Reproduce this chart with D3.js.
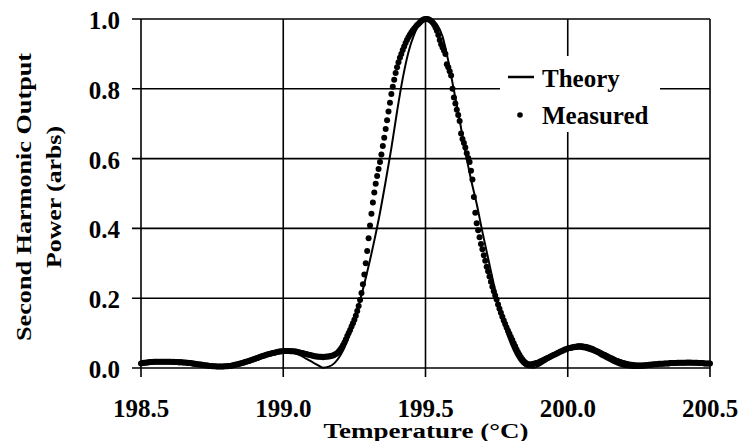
<!DOCTYPE html>
<html>
<head>
<meta charset="utf-8">
<script src="https://cdnjs.cloudflare.com/ajax/libs/d3/7.8.5/d3.min.js"></script>
<style>
	body { margin: 0; background: #fff; }
	text { font-family: 'Liberation Serif', 'Times New Roman', serif; font-weight: bold; fill: #000; }
</style>
</head>
<body>
<svg id="sh-chart" width="743" height="441"></svg>
<script>
var xTicks = [198.5, 199.0, 199.5, 200.0, 200.5];
var yTicks = [0, 0.2, 0.4, 0.6, 0.8, 1.0];
var legendNames = ['Theory', 'Measured'];

// theory curve, one value every 0.02 C from 198.5
var theoryStart = 198.5,
    theoryStep = 0.02;
var theory = [
	0.012,0.014,0.015,0.016,0.016,0.016,0.015,0.013,0.011,0.008,
	0.006,0.004,0.002,0.001,0.000,0.001,0.004,0.008,0.013,0.019,
	0.026,0.032,0.038,0.042,0.046,0.048,0.047,0.043,0.036,0.027,
	0.018,0.009,0.001,0.004,0.014,0.035,0.068,0.112,0.165,0.225,
	0.292,0.365,0.445,0.535,0.630,0.735,0.830,0.905,0.955,0.988,
	1.000,0.997,0.985,0.950,0.880,0.795,0.710,0.620,0.540,0.470,
	0.390,0.315,0.240,0.170,0.115,0.070,0.035,0.012,0.002,0.001,
	0.007,0.017,0.028,0.038,0.046,0.051,0.054,0.055,0.053,0.048,
	0.041,0.032,0.023,0.015,0.008,0.003,0.001,0.000,0.001,0.003,
	0.006,0.009,0.012,0.014,0.015,0.016,0.016,0.015,0.014,0.013,
	0.012
];

// measured points, one every 0.005 C from 198.5
var measuredStart = 198.5,
    measuredStep = 0.005;
var measured = [
	0.013,0.014,0.015,0.015,0.016,0.016,0.017,0.017,0.017,0.018,
	0.018,0.018,0.018,0.018,0.018,0.018,0.018,0.018,0.018,0.018,
	0.018,0.018,0.017,0.018,0.017,0.017,0.017,0.016,0.017,0.016,
	0.016,0.016,0.015,0.015,0.014,0.014,0.013,0.013,0.012,0.011,
	0.011,0.010,0.010,0.009,0.008,0.008,0.007,0.007,0.006,0.006,
	0.005,0.005,0.005,0.004,0.004,0.004,0.004,0.004,0.004,0.005,
	0.005,0.005,0.006,0.006,0.007,0.008,0.009,0.010,0.011,0.012,
	0.013,0.014,0.015,0.017,0.018,0.019,0.020,0.022,0.023,0.025,
	0.026,0.028,0.029,0.031,0.032,0.034,0.035,0.036,0.038,0.039,
	0.040,0.041,0.042,0.043,0.044,0.045,0.046,0.047,0.047,0.048,
	0.048,0.049,0.049,0.049,0.049,0.048,0.048,0.048,0.047,0.047,
	0.046,0.045,0.044,0.043,0.042,0.041,0.040,0.039,0.038,0.037,
	0.036,0.035,0.034,0.033,0.033,0.032,0.032,0.032,0.031,0.032,
	0.032,0.033,0.033,0.034,0.035,0.036,0.038,0.040,0.043,0.047,
	0.052,0.058,0.065,0.073,0.082,0.092,0.100,0.109,0.119,0.128,
	0.138,0.150,0.163,0.178,0.195,0.215,0.240,0.268,0.300,0.335,
	0.372,0.408,0.442,0.474,0.503,0.528,0.550,0.570,0.590,0.612,
	0.636,0.660,0.685,0.710,0.735,0.760,0.785,0.806,0.826,0.845,
	0.862,0.876,0.889,0.900,0.911,0.921,0.931,0.940,0.948,0.955,
	0.961,0.967,0.972,0.977,0.982,0.986,0.990,0.994,0.997,0.999,
	1.000,1.000,0.999,0.997,0.994,0.990,0.984,0.976,0.966,0.954,
	0.940,0.928,0.918,0.910,0.900,0.870,0.862,0.850,0.838,0.800,
	0.775,0.758,0.740,0.725,0.708,0.672,0.656,0.645,0.632,0.615,
	0.602,0.590,0.565,0.540,0.490,0.445,0.415,0.395,0.375,0.355,
	0.340,0.323,0.307,0.290,0.277,0.262,0.247,0.233,0.220,0.208,
	0.196,0.182,0.170,0.158,0.147,0.136,0.126,0.116,0.107,0.098,
	0.089,0.080,0.071,0.062,0.053,0.045,0.038,0.031,0.025,0.020,
	0.016,0.013,0.011,0.010,0.010,0.011,0.012,0.013,0.014,0.015,
	0.017,0.019,0.021,0.023,0.025,0.027,0.029,0.031,0.033,0.035,
	0.037,0.039,0.041,0.043,0.045,0.047,0.049,0.051,0.053,0.054,
	0.056,0.057,0.058,0.059,0.060,0.061,0.061,0.062,0.062,0.062,
	0.062,0.061,0.061,0.060,0.059,0.058,0.056,0.055,0.053,0.051,
	0.049,0.047,0.045,0.043,0.041,0.039,0.037,0.035,0.033,0.031,
	0.029,0.027,0.025,0.023,0.021,0.020,0.018,0.017,0.015,0.014,
	0.013,0.012,0.011,0.010,0.009,0.009,0.008,0.008,0.007,0.007,
	0.007,0.007,0.007,0.007,0.008,0.008,0.008,0.009,0.009,0.010,
	0.010,0.011,0.011,0.011,0.012,0.012,0.012,0.012,0.013,0.013,
	0.013,0.013,0.014,0.014,0.014,0.014,0.014,0.015,0.015,0.015,
	0.015,0.015,0.015,0.015,0.016,0.015,0.016,0.015,0.015,0.015,
	0.015,0.015,0.014,0.014,0.014,0.014,0.013,0.013,0.013,0.013,
	0.013
];

var svg = d3.select('#sh-chart');

var x = d3.scaleLinear().domain([198.5, 200.5]).range([141, 710]);
var y = d3.scaleLinear().domain([0, 1]).range([368, 19]);

var theoryPts = theory.map((v, i) => [theoryStart + i*theoryStep, v]);
var measuredPts = measured.map((v, i) => [measuredStart + i*measuredStep, v]);

// gridlines + ticks
var grid = svg.append('g').attr('stroke', '#000').attr('stroke-width', 1.6);

grid.selectAll('.hgrid')
	.data(yTicks)
	.enter()
	.append('line')
	.attr('x1', 132)
	.attr('x2', x(200.5))
	.attr('y1', d => y(d))
	.attr('y2', d => y(d));

grid.selectAll('.vgrid')
	.data(xTicks)
	.enter()
	.append('line')
	.attr('x1', d => x(d))
	.attr('x2', d => x(d))
	.attr('y1', y(1))
	.attr('y2', 377);

// legend backdrop hides the grid behind it
svg.append('rect')
	.attr('x', 500)
	.attr('y', 56)
	.attr('width', 160)
	.attr('height', 76)
	.attr('fill', '#fff');

// data
svg.append('path')
	.datum(theoryPts)
	.attr('fill', 'none')
	.attr('stroke', '#000')
	.attr('stroke-width', 2)
	.attr('d', d3.line().x(d => x(d[0])).y(d => y(d[1])).curve(d3.curveMonotoneX));

svg.append('g')
	.selectAll('circle')
	.data(measuredPts)
	.enter()
	.append('circle')
	.attr('cx', d => x(d[0]))
	.attr('cy', d => y(d[1]))
	.attr('r', 3)
	.attr('fill', '#000');

// tick labels
svg.selectAll('.y-label')
	.data(yTicks)
	.enter()
	.append('text')
	.attr('class', 'y-label')
	.attr('x', 120)
	.attr('y', d => y(d) + 10)
	.attr('text-anchor', 'end')
	.style('font-size', '25px')
	.text(d => d3.format('.1f')(d));

svg.selectAll('.x-label')
	.data(xTicks)
	.enter()
	.append('text')
	.attr('class', 'x-label')
	.attr('x', d => x(d))
	.attr('y', 417)
	.attr('text-anchor', 'middle')
	.style('font-size', '25px')
	.text(d => d3.format('.1f')(d));

// axis titles
svg.append('text')
	.attr('x', 426)
	.attr('y', 438)
	.attr('text-anchor', 'middle')
	.style('font-size', '20px')
	.attr('textLength', 205)
	.attr('lengthAdjust', 'spacingAndGlyphs')
	.text('Temperature (\u00B0C)');

var yTitle = svg.append('g').attr('transform', 'translate(0,197) rotate(-90)');

yTitle.append('text')
	.attr('x', 0)
	.attr('y', 31)
	.attr('text-anchor', 'middle')
	.style('font-size', '21px')
	.attr('textLength', 288)
	.attr('lengthAdjust', 'spacingAndGlyphs')
	.text('Second Harmonic Output');

yTitle.append('text')
	.attr('x', 0)
	.attr('y', 61)
	.attr('text-anchor', 'middle')
	.style('font-size', '21px')
	.attr('textLength', 142)
	.attr('lengthAdjust', 'spacingAndGlyphs')
	.text('Power (arbs)');

// legend
var legend = svg.append('g');

legend.append('line')
	.attr('x1', 508)
	.attr('x2', 534)
	.attr('y1', 77)
	.attr('y2', 77)
	.attr('stroke', '#000')
	.attr('stroke-width', 2.5);

legend.append('circle')
	.attr('cx', 520)
	.attr('cy', 115)
	.attr('r', 2.8)
	.attr('fill', '#000');

legend.selectAll('.legend-text')
	.data(legendNames)
	.enter()
	.append('text')
	.attr('class', 'legend-text')
	.attr('x', 542)
	.attr('y', (d, i) => 87 + i*37)
	.style('font-size', '25px')
	.text(d => d);
</script>
</body>
</html>
